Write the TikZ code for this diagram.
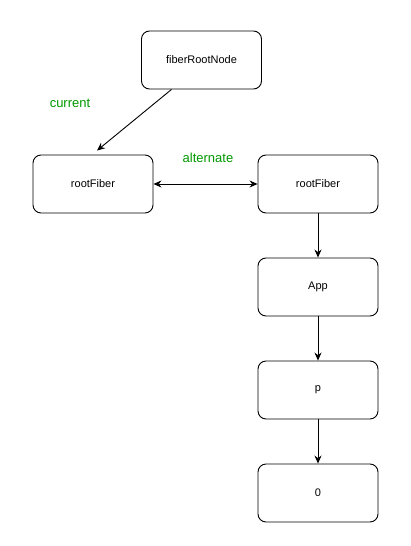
\documentclass[tikz,border=0pt]{standalone}
\usepackage{fontspec}
\setmainfont{Liberation Sans}
\usetikzlibrary{arrows.meta}
\definecolor{lblgreen}{RGB}{0,153,0}
\begin{document}
\begin{tikzpicture}[x=1pt,y=-1pt,
  box/.style={draw,rounded corners=8pt,minimum width=120pt,minimum height=58pt,inner sep=0pt,font=\fontsize{11}{13}\selectfont,line width=0.9pt},
  lbl/.style={text=lblgreen,font=\fontsize{13}{15}\selectfont,inner sep=0pt},
  arr/.style={-{Stealth[length=8pt,width=7pt]},line width=0.9pt},
  darr/.style={{Stealth[length=8pt,width=7pt]}-{Stealth[length=8pt,width=7pt]},line width=0.9pt}]
\useasboundingbox (0,0) rectangle (410,546);
\node[box] (fr) at (201.5,60) {fiberRootNode};
\node[box] (rf1) at (93,184) {rootFiber};
\node[box] (rf2) at (318,184) {rootFiber};
\node[box] (app) at (318,287) {App};
\node[box] (p) at (318,390) {p};
\node[box] (z) at (318,493) {0};
\node[lbl] (cur) at (70,103) {current};
\node[lbl] (alt) at (208,158) {alternate};
\draw[arr] ([xshift=-30pt]fr.south) -- ([xshift=4pt,yshift=4pt]rf1.north);
\draw[darr] (rf1.east) -- (rf2.west);
\draw[arr] (rf2.south) -- (app.north);
\draw[arr] (app.south) -- (p.north);
\draw[arr] (p.south) -- (z.north);
\end{tikzpicture}
\end{document}
